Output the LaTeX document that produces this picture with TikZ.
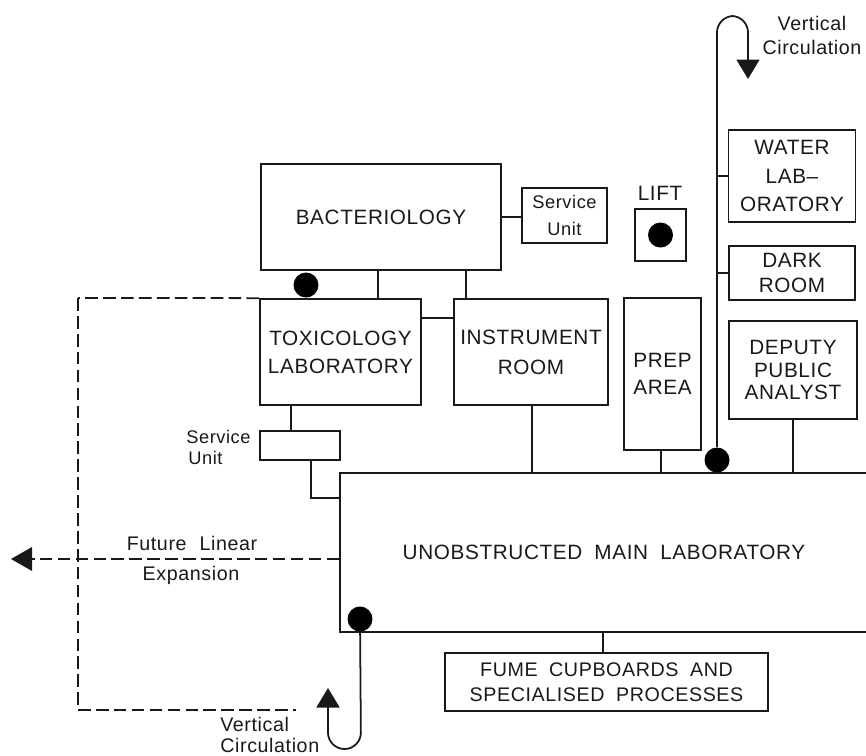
\documentclass[tikz,border=0pt]{standalone}
\usepackage{fontspec}
\usepackage{tikz}
\usetikzlibrary{arrows.meta, positioning}
\setmainfont[LetterSpace=3,WordSpace=1.9]{Liberation Sans}
\definecolor{inkblack}{RGB}{25,25,25}

\begin{document}
\begin{tikzpicture}[
		x=0.02cm, y=-0.02cm,
		room/.style={draw=inkblack, line width=1pt, inner sep=0pt, align=center, text=inkblack,
			font=\fontsize{11.8}{14}\selectfont},
		label/.style={inner sep=0pt, align=center, text=inkblack, font=\fontsize{11.2}{14}\selectfont},
		unitfont/.style={font=\fontsize{10.4}{14}\selectfont},
		dot/.style={circle, fill=black, inner sep=0pt, minimum size=0.5cm},
		link/.style={draw=inkblack, line width=1pt},
		future/.style={draw=inkblack, line width=1pt, dash pattern=on 7.2pt off 3pt},
		circulation/.style={link, -{Triangle[length=0.39cm, width=0.46cm]}, rounded corners=0.33cm}
	]
		\useasboundingbox (0,0) rectangle (866,755);
		\clip (0,0) rectangle (866,755);

		\node[room, minimum width=4.8cm, minimum height=2.12cm] (bacteriology) at (381,217) {BACTERIOLOGY};
		\node[room, unitfont, minimum width=1.7cm, minimum height=1.1cm] (topunit) at (564.5,215.5) {Service\\[1pt]Unit};
		\node[room, minimum width=1.02cm, minimum height=1.03cm] (lift) at (660.5,235) {};
		\node[label, font=\fontsize{11.8}{14}\selectfont] (liftlabel) at (660,193) {LIFT};
		\node[room, minimum width=2.54cm, minimum height=1.84cm] (water) at (792,176) {WATER\\[2pt]LAB--\\[2pt]ORATORY};
		\node[room, minimum width=2.52cm, minimum height=1.08cm] (dark) at (792,273) {DARK\\ROOM};
		\node[room, minimum width=2.56cm, minimum height=1.96cm] (deputy) at (793,370) {DEPUTY\\[-1pt]PUBLIC\\[-1pt]ANALYST};
		\node[room, minimum width=1.54cm, minimum height=3.04cm] (prep) at (662.5,374) {PREP\\[1.5pt]AREA};
		\node[room, minimum width=3.22cm, minimum height=2.12cm] (toxicology) at (340.5,352) {TOXICOLOGY\\[2pt]LABORATORY};
		\node[room, minimum width=3.08cm, minimum height=2.12cm] (instrument) at (531,352) {INSTRUMENT\\[3pt]ROOM};
		\node[room, minimum width=1.6cm, minimum height=0.58cm] (leftunit) at (300,445.5) {};
		\node[label, unitfont, align=left, anchor=west] (leftunitlabel) at (186,447.5) {Service\\[-2pt]\hspace*{0.04cm}Unit};
		\node[room, minimum width=10.56cm, minimum height=3.18cm] (main) at (604,552.5) {UNOBSTRUCTED MAIN LABORATORY};
		\node[room, font=\fontsize{11.2}{14}\selectfont, minimum width=6.46cm, minimum height=1.16cm] (fume) at (606.5,682) {FUME CUPBOARDS AND\\SPECIALISED PROCESSES};

		\node[dot] (dotbact) at (306,285) {};
		\node[dot] (dotstair) at (717,460) {};
		\node[dot] (dotmain) at (360,619) {};
		\node[dot] (dotlift) at (660.5,235) {};

		\foreach \a/\b/\x in {bacteriology/toxicology/378,bacteriology/instrument/466,toxicology/leftunit/291,
				instrument/main/532,prep/main/661,deputy/main/793,main/fume/603}
			\draw[link] (\a.south -| \x,0) -- (\b.north -| \x,0);
		\draw[link] (bacteriology.east |- 0,217) -- (topunit.west |- 0,217);
		\draw[link] (toxicology.east |- 0,318) -- (instrument.west |- 0,318);
		\draw[link] (leftunit.south -| 311,0) -- (311,498) -- (main.west |- 0,498);
		\draw[link] (water.west -| dotstair) -- (water.west);
		\draw[link] (dark.west -| dotstair) -- (dark.west);

		% circulation loops
		\coordinate (toptip) at (748,79);
		\coordinate (bottomtip) at (328,688);
		\draw[circulation] (dotstair) -- (717,16) -- (748,16) -- (toptip);
		\draw[circulation] (dotmain) -- (361,749) -- (328,749) -- (bottomtip);
		\node[label] (toplabel) at (812,35.5) {Vertical\\Circulation};
		\node[label, align=left, anchor=west] (bottomlabel) at (220,735) {Vertical\\[-2pt]Circulation};

		% future expansion
		\coordinate (bendtop) at (78,298);
		\coordinate (bendbottom) at (78,710);
		\coordinate (freeend) at (296,710);
		\coordinate (exptip) at (11,559);
		\draw[future] (toxicology.north west) -- (bendtop);
		\draw[future, line width=1.5pt] (bendtop) -- (bendbottom);
		\draw[future] (bendbottom) -- (freeend);
		\draw[future] (main.west |- exptip) -- (32,559);
		\fill[inkblack] (exptip) -- (32,547) -- (32,571) -- cycle;
		\node[label] (futurelabel) at (192,543) {Future\hspace{0.26cm}Linear};
		\node[label] (expansionlabel) at (191,575) {Expansion};
	\end{tikzpicture}
\end{document}
